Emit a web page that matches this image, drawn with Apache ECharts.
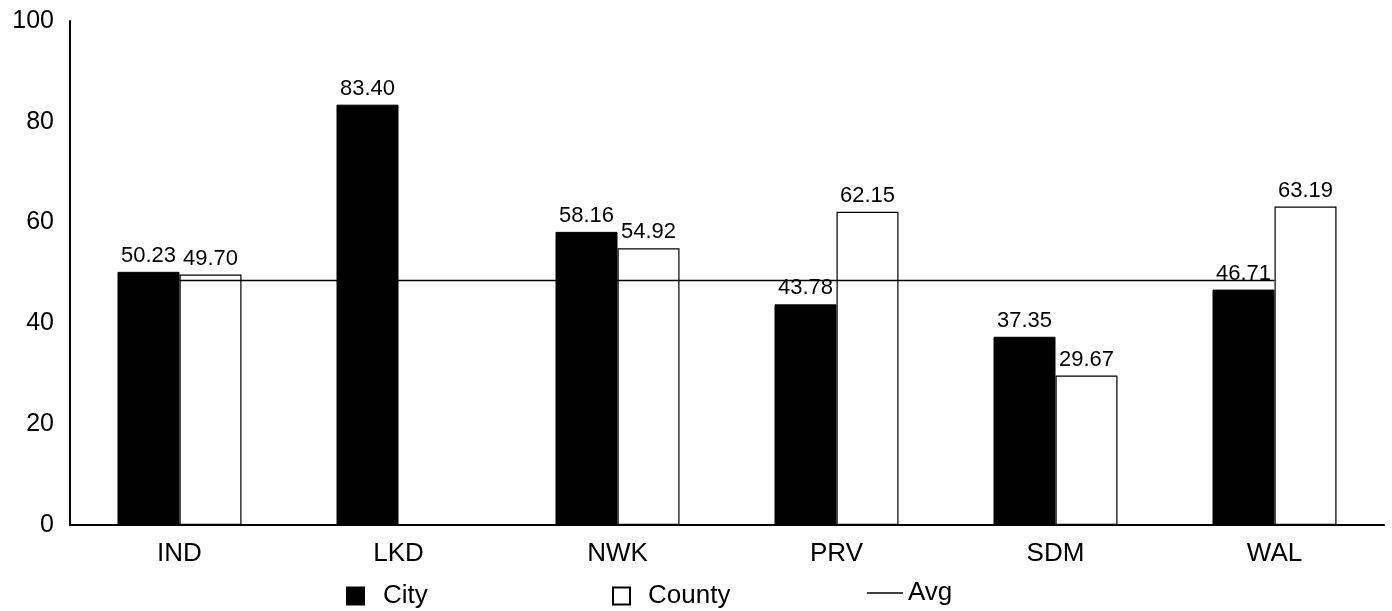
<!DOCTYPE html>
<html>
<head>
<meta charset="utf-8">
<script src="https://cdn.jsdelivr.net/npm/echarts@6/dist/echarts.min.js"></script>
<style>
  html, body { margin: 0; padding: 0; background: #fff; }
  #chart { width: 1392px; height: 611px; }
</style>
</head>
<body>
<div id="chart"></div>
<script>
// Sites and their city / county scores
const categories = ['IND', 'LKD', 'NWK', 'PRV', 'SDM', 'WAL'];
const cityValues = [50.23, 83.40, 58.16, 43.78, 37.35, 46.71];
const countyValues = [49.70, null, 54.92, 62.15, 29.67, 63.19];
const avgValues = [48.5, 48.5, 48.5, 48.5, 48.5, 48.5];
const yTicks = { min: 0, max: 100, interval: 20 };

const FONT = '"Liberation Sans", Arial, sans-serif';

const chart = echarts.init(document.getElementById('chart'), null, { renderer: 'canvas' });

const barLabel = {
  show: true,
  position: 'top',
  distance: 5,
  color: '#000',
  fontFamily: FONT,
  fontSize: 22,
  formatter: p => (p.value == null ? '' : p.value.toFixed(2))
};

const legendText = (pad) => ({
  color: '#000',
  fontFamily: FONT,
  fontSize: 26,
  padding: [0, 0, 0, pad]
});

chart.setOption({
  animation: false,
  backgroundColor: '#fff',
  grid: { left: 70, right: 8, top: 21, bottom: 86 },
  legend: [
    { data: [{ name: 'City', icon: 'rect' }], left: 341, top: 578, itemWidth: 17, itemHeight: 17, textStyle: legendText(14) },
    { data: [{ name: 'County', icon: 'rect' }], left: 607, top: 578, itemWidth: 17, itemHeight: 17, textStyle: legendText(13) },
    { data: [{ name: 'Avg', icon: 'rect' }], left: 862, top: 575, itemWidth: 36, itemHeight: 1.5, textStyle: legendText(0) }
  ],
  xAxis: {
    type: 'category',
    data: categories,
    axisLine: { lineStyle: { color: '#000', width: 2 } },
    axisTick: { show: false },
    axisLabel: { color: '#000', fontFamily: FONT, fontSize: 26, margin: 16 }
  },
  yAxis: {
    type: 'value',
    min: yTicks.min,
    max: yTicks.max,
    interval: yTicks.interval,
    axisLine: { show: true, lineStyle: { color: '#000', width: 2 } },
    axisTick: { show: false },
    splitLine: { show: false },
    axisLabel: { color: '#000', fontFamily: FONT, fontSize: 25, margin: 16 }
  },
  series: [
    {
      name: 'City',
      type: 'bar',
      data: cityValues,
      barWidth: 62,
      barGap: '0%',
      itemStyle: { color: '#000', borderColor: '#000', borderWidth: 1 },
      label: barLabel,
      z: 2
    },
    {
      name: 'County',
      type: 'bar',
      data: countyValues,
      barWidth: 62,
      itemStyle: { color: '#fff', borderColor: '#000', borderWidth: 1.2 },
      label: barLabel,
      z: 2
    },
    {
      name: 'Avg',
      type: 'line',
      data: avgValues,
      symbol: 'none',
      lineStyle: { color: '#000', width: 1.5 },
      itemStyle: { color: '#000' },
      z: 5
    }
  ]
});
</script>
</body>
</html>
